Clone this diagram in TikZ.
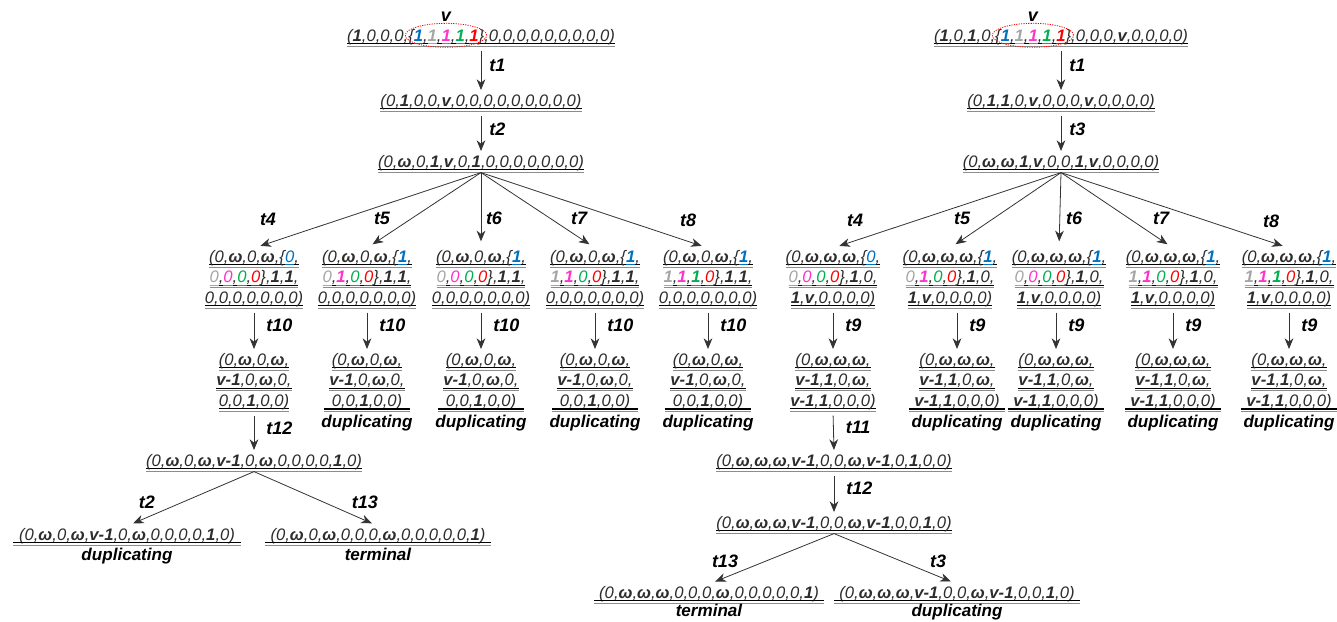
\documentclass[tikz,border=0pt]{standalone}
\usepackage{fontspec}
\setmainfont{Liberation Sans}
\usetikzlibrary{arrows.meta,calc,shapes.geometric}
\definecolor{cB}{RGB}{0,112,192}
\definecolor{cG}{RGB}{165,165,165}
\definecolor{cM}{RGB}{255,51,204}
\definecolor{cN}{RGB}{0,176,80}
\definecolor{cR}{RGB}{255,0,0}
\definecolor{tx}{RGB}{45,45,45}
\newlength\LenA \newlength\LenB \newlength\LenC \newlength\LenD \newlength\LenE \newlength\LenF
\newcommand\rowfont{\fontsize{12.5}{15.4}\selectfont\itshape}
\newcommand\bb[1]{{\bfseries #1}}
\newcommand\w{{\bfseries ω}}
\newcommand\UL[1]{\setbox0\hbox{#1}\rlap{\color{black}\raisebox{-2.2pt}{\rule{\wd0}{0.8pt}}}\rlap{\color{black!45}\raisebox{-3.8pt}{\rule{\wd0}{0.6pt}}}\rule{0pt}{10.5pt}\box0}
\newcommand\CU[2]{{\color{#1}\setbox0\hbox{#2}\rlap{\raisebox{-2.2pt}{\rule{\wd0}{0.8pt}}}\box0}}
\newcommand\kb[1]{\CU{cB}{#1}}
\newcommand\kg[1]{\CU{cG}{#1}}
\newcommand\km[1]{\CU{cM}{#1}}
\newcommand\kn[1]{\CU{cN}{#1}}
\newcommand\kr[1]{\CU{cR}{#1}}
\newcommand\LthreeTxt[5]{\UL{(0,\w,0,\w,\{\kb{#1},}\\\UL{\kg{#2},\km{#3},\kn{#4},\kr{#5}\},\bb1,\bb1,}\\\UL{0,0,0,0,0,0,0)}}
\newcommand\RthreeTxt[5]{\UL{(0,\w,\w,\w,\{\kb{#1},}\\\UL{\kg{#2},\km{#3},\kn{#4},\kr{#5}\},\bb1,0,}\\\UL{\bb1,\bb v,0,0,0,0)}}
\newcommand\LfourTxt{\UL{(0,\w,0,\w,}\\\UL{\bb{v-1},0,\w,0,}\\\UL{0,0,\bb1,0,0)}}
\newcommand\RfourTxt{\UL{(0,\w,\w,\w,}\\\UL{\bb{v-1},\bb1,0,\w,}\\\UL{\bb{v-1},\bb1,0,0,0)}}
\newcommand\Sep[1]{%
  \draw[line width=0.8pt,black] ([xshift=-4pt,yshift=2pt]#1.south west) -- ([xshift=4pt,yshift=2pt]#1.south east);
  \draw[line width=0.6pt,black!45] ([xshift=-4pt,yshift=0.3pt]#1.south west) -- ([xshift=4pt,yshift=0.3pt]#1.south east);}
\tikzset{
  st/.style={inner sep=0pt, anchor=north, align=center, text=tx, font=\rowfont},
  lab/.style={inner sep=0pt, font=\fontsize{13.5}{16}\selectfont\bfseries\itshape},
  dup/.style={inner sep=0pt, anchor=base, font=\fontsize{12.8}{15}\selectfont\bfseries\itshape},
  arr/.style={draw=black!80, line width=0.6pt, -{Stealth[length=8pt,width=6.5pt,inset=2.5pt]}},
  varr/.style={arr, shorten <=3pt, shorten >=1.5pt},
  farr/.style={arr, shorten >=5pt},
  ell/.style={ellipse, draw=red, line width=0.6pt, dash pattern=on 0.9pt off 0.9pt, inner sep=0pt, minimum height=18pt},
}
\begin{document}
\settowidth\LenA{\rowfont(\bb1,0,0,0,}%
\settowidth\LenE{\rowfont(\bb1,0,\bb1,0,}%
\settowidth\LenB{\rowfont\{\bb1,\bb1,\bb1,\bb1,\bb1\}}%
\setlength\LenC{\dimexpr\LenB+4pt\relax}%
\setlength\LenD{\dimexpr\LenA+\LenB/2\relax}%
\setlength\LenF{\dimexpr\LenE+\LenB/2\relax}%
\begin{tikzpicture}[x=0.75pt,y=-0.75pt]
\useasboundingbox (0,0) rectangle (1337,621);
% ---------------- left tree ----------------
\node[st] (L0) at (481,27) {\UL{(\bb1,0,0,0,\{\kb{\bb1},\kg{\bb1},\km{\bb1},\kn{\bb1},\kr{\bb1}\},0,0,0,0,0,0,0,0,0)}};
\node[ell, minimum width=\LenC] (E0) at ([xshift=\LenD,yshift=1.1pt]L0.west) {};
\node[lab, anchor=base] (V0) at ([yshift=1pt]E0.north) {v};
\node[st] (L1) at (481,92) {\UL{(0,\bb1,0,0,\bb v,0,0,0,0,0,0,0,0,0)}};
\node[st] (L2) at (481,153) {\UL{(0,\w,0,\bb1,\bb v,0,\bb1,0,0,0,0,0,0,0)}};
\node[st] (L3a) at (254,248) {\LthreeTxt{0}{0}{0}{0}{0}};
\node[st] (L3b) at (367,248) {\LthreeTxt{\bb1}{0}{\bb1}{0}{0}};
\node[st] (L3c) at (481,248) {\LthreeTxt{\bb1}{0}{0}{0}{0}};
\node[st] (L3d) at (595,248) {\LthreeTxt{\bb1}{\bb1}{\bb1}{0}{0}};
\node[st] (L3e) at (708,248) {\LthreeTxt{\bb1}{\bb1}{\bb1}{\bb1}{0}};
\node[st] (L4a) at (254,351) {\LfourTxt};
\node[st] (L4b) at (367,351) {\LfourTxt};
\node[st] (L4c) at (481,351) {\LfourTxt};
\node[st] (L4d) at (595,351) {\LfourTxt};
\node[st] (L4e) at (708,351) {\LfourTxt};
\node[st] (L5) at (254,452) {\UL{(0,\w,0,\w,\bb{v-1},0,\w,0,0,0,0,\bb1,0)}};
\node[st] (L6a) at (127,526) {\UL{(0,\w,0,\w,\bb{v-1},0,\w,0,0,0,0,\bb1,0)}};
\node[st] (L6b) at (378,526) {\UL{(0,\w,0,\w,0,0,0,\w,0,0,0,0,0,\bb1)}};
\foreach \n in {L4b,L4c,L4d,L4e,L6a,L6b} {\Sep{\n}}
\foreach \n in {L4b,L4c,L4d,L4e,L6a} {\node[dup] (\n-d) at ([yshift=-11.5pt]\n.south) {duplicating};}
\node[dup] (L6b-d) at ([yshift=-11.5pt]L6b.south) {terminal};
\draw[varr] (L0.south) -- (L1.north) node[lab, right=6pt, pos=0.42] (lt1) {t1};
\draw[varr] (L1.south) -- (L2.north) node[lab, right=6pt, pos=0.42] (lt2) {t2};
\draw[farr] (L2.south) -- (L3a.north);
\draw[farr] (L2.south) -- (L3b.north);
\draw[farr] (L2.south) -- (L3c.north);
\draw[farr] (L2.south) -- (L3d.north);
\draw[farr] (L2.south) -- (L3e.north);
\node[lab] (lt4) at (268,219) {t4};
\node[lab] (lt5) at (382,218) {t5};
\node[lab] (lt6) at (494,218) {t6};
\node[lab] (lt7) at (579,218) {t7};
\node[lab] (lt8) at (688,220) {t8};
\foreach \c in {a,b,c,d,e} {\draw[varr] (L3\c.south) -- (L4\c.north) node[lab, right=9pt, pos=0.4] {t10};}
\draw[varr] (L4a.south) -- (L5.north) node[lab, right=9pt, pos=0.4] (lt12) {t12};
\draw[farr] (L5.south) -- (L6a.north);
\draw[farr] (L5.south) -- (L6b.north);
\node[lab] (lb2) at (147,502) {t2};
\node[lab] (lb13) at (365,502) {t13};
% ---------------- right tree ----------------
\node[st] (R0) at (1061,27) {\UL{(\bb1,0,\bb1,0,\{\kb{\bb1},\kg{\bb1},\km{\bb1},\kn{\bb1},\kr{\bb1}\},0,0,0,\bb v,0,0,0,0)}};
\node[ell, minimum width=\LenC] (E1) at ([xshift=\LenF,yshift=1.1pt]R0.west) {};
\node[lab, anchor=base] (V1) at ([yshift=1pt]E1.north) {v};
\node[st] (R1) at (1061,92) {\UL{(0,\bb1,\bb1,0,\bb v,0,0,0,\bb v,0,0,0,0)}};
\node[st] (R2) at (1061,153) {\UL{(0,\w,\w,\bb1,\bb v,0,0,\bb1,\bb v,0,0,0,0)}};
\node[st] (R3a) at (833,248) {\RthreeTxt{0}{0}{0}{0}{0}};
\node[st] (R3b) at (950,248) {\RthreeTxt{\bb1}{0}{\bb1}{0}{0}};
\node[st] (R3c) at (1059,248) {\RthreeTxt{\bb1}{0}{0}{0}{0}};
\node[st] (R3d) at (1173,248) {\RthreeTxt{\bb1}{\bb1}{\bb1}{0}{0}};
\node[st] (R3e) at (1289,248) {\RthreeTxt{\bb1}{\bb1}{\bb1}{\bb1}{0}};
\node[st] (R4a) at (833,351) {\RfourTxt};
\node[st] (R4b) at (957,351) {\RfourTxt};
\node[st] (R4c) at (1056,351) {\RfourTxt};
\node[st] (R4d) at (1173,351) {\RfourTxt};
\node[st] (R4e) at (1289,351) {\RfourTxt};
\node[st] (R5) at (834,452) {\UL{(0,\w,\w,\w,\bb{v-1},0,0,\w,\bb{v-1},0,\bb1,0,0)}};
\node[st] (R6) at (834,514) {\UL{(0,\w,\w,\w,\bb{v-1},0,0,\w,\bb{v-1},0,0,\bb1,0)}};
\node[st] (R7a) at (709,584) {\UL{(0,\w,\w,\w,0,0,0,\w,0,0,0,0,0,\bb1)}};
\node[st] (R7b) at (957,584) {\UL{(0,\w,\w,\w,\bb{v-1},0,0,\w,\bb{v-1},0,0,\bb1,0)}};
\foreach \n in {R4b,R4c,R4d,R4e,R7a,R7b} {\Sep{\n}}
\foreach \n in {R4b,R4c,R4d,R4e} {\node[dup] (\n-d) at ([yshift=-11.5pt]\n.south) {duplicating};}
\node[dup] (R7b-d) at ([yshift=-9.6pt]R7b.south) {duplicating};
\node[dup] (R7a-d) at ([yshift=-9.6pt]R7a.south) {terminal};
\draw[varr] (R0.south) -- (R1.north) node[lab, right=6pt, pos=0.42] (rt1) {t1};
\draw[varr] (R1.south) -- (R2.north) node[lab, right=6pt, pos=0.42] (rt3) {t3};
\draw[farr] (R2.south) -- (R3a.north);
\draw[farr] (R2.south) -- (R3b.north);
\draw[farr] (R2.south) -- (R3c.north);
\draw[farr] (R2.south) -- (R3d.north);
\draw[farr] (R2.south) -- (R3e.north);
\node[lab] (rt4) at (855,220) {t4};
\node[lab] (rt5) at (962,218) {t5};
\node[lab] (rt6) at (1074,218) {t6};
\node[lab] (rt7) at (1161,218) {t7};
\node[lab] (rt8) at (1271,221) {t8};
\foreach \c in {a,b,c,d,e} {\draw[varr] (R3\c.south -| R4\c.north) -- (R4\c.north) node[lab, right=9pt, pos=0.4] {t9};}
\draw[varr] (R4a.south) -- (R5.north) node[lab, right=9pt, pos=0.4] (rt11) {t11};
\draw[varr] (R5.south) -- (R6.north) node[lab, right=9pt, pos=0.4] (rt12) {t12};
\draw[farr] (R6.south) -- (R7a.north);
\draw[farr] (R6.south) -- (R7b.north);
\node[lab] (rb13) at (725,561) {t13};
\node[lab] (rb3) at (938,561) {t3};
\end{tikzpicture}
\end{document}
